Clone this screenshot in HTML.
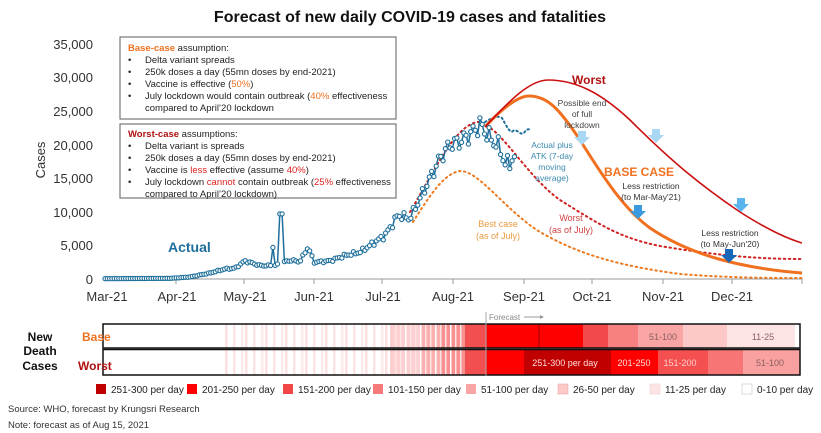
<!DOCTYPE html>
<html><head><meta charset="utf-8"><style>
body{margin:0;background:#fff;}
svg{display:block;font-family:"Liberation Sans",Arial,sans-serif;}
</style></head><body>
<svg id="s" width="821" height="433" viewBox="0 0 821 433" xmlns="http://www.w3.org/2000/svg">
<text x="410" y="22" text-anchor="middle" font-size="16" font-weight="bold" fill="#111">Forecast of new daily COVID-19 cases and fatalities</text>
<g font-size="13" fill="#333" text-anchor="end">
<text x="93" y="49">35,000</text><text x="93" y="82">30,000</text><text x="93" y="116">25,000</text>
<text x="93" y="150">20,000</text><text x="93" y="183">15,000</text><text x="93" y="217">10,000</text>
<text x="93" y="250">5,000</text><text x="93" y="284">0</text>
</g>
<text transform="translate(45,160) rotate(-90)" font-size="13" fill="#333" text-anchor="middle">Cases</text>
<line x1="103" y1="279" x2="802" y2="279" stroke="#999" stroke-width="1"/>
<g stroke="#999"><line x1="176" y1="279" x2="176" y2="284"/><line x1="244" y1="279" x2="244" y2="284"/><line x1="314" y1="279" x2="314" y2="284"/><line x1="382" y1="279" x2="382" y2="284"/><line x1="453" y1="279" x2="453" y2="284"/><line x1="524" y1="279" x2="524" y2="284"/><line x1="592" y1="279" x2="592" y2="284"/><line x1="663" y1="279" x2="663" y2="284"/><line x1="732" y1="279" x2="732" y2="284"/><line x1="802" y1="279" x2="802" y2="284"/></g>
<g font-size="13" fill="#333" text-anchor="middle">
<text x="107" y="301">Mar-21</text><text x="177" y="301">Apr-21</text><text x="245" y="301">May-21</text><text x="314" y="301">Jun-21</text><text x="383" y="301">Jul-21</text><text x="453" y="301">Aug-21</text><text x="524" y="301">Sep-21</text><text x="592" y="301">Oct-21</text><text x="663" y="301">Nov-21</text><text x="732" y="301">Dec-21</text>
</g>
<path d="M413,222 C430,195 445,172 461,171 C480,172 505,210 540,232 C580,255 620,266 680,274 C730,278 770,278 802,278" fill="none" stroke="#ee7a20" stroke-width="2" stroke-dasharray="1.5 3.5" stroke-linecap="round"/>
<path d="M410,212 C435,170 455,125 478,122 C500,125 525,175 560,200 C600,225 620,238 660,246 C720,256 760,259 802,259" fill="none" stroke="#d02020" stroke-width="2" stroke-dasharray="1.5 3.5" stroke-linecap="round"/>
<path d="M485,122 C492,118 497,115 502,118 C506,125 510,134 513,131 C517,128 520,136 524,133 C527,128 528,130 530,129" fill="none" stroke="#1f6f9c" stroke-width="2" stroke-dasharray="1.5 3" stroke-linecap="round"/>
<path d="M485,127 C505,105 520,96 529,96 C548,96 560,110 580,140 C605,180 625,210 650,228 C690,255 740,268 802,273" fill="none" stroke="#f07020" stroke-width="3"/>
<path d="M485,127 C510,100 530,80 548,80 C575,80 600,92 630,120 C670,160 700,185 740,212 C765,228 785,238 802,243" fill="none" stroke="#cc1010" stroke-width="1.6"/>
<g id="act"></g>
<g>
<polygon points="578,131 586,131 586,137 590,137 582,145 574,137 578,137" fill="#a9d8f5"/>
<polygon points="652,129 660,129 660,135 664,135 656,143 648,135 652,135" fill="#a9d8f5"/>
<polygon points="737,198 745,198 745,204 749,204 741,212 733,204 737,204" fill="#5ab4ee"/>
<polygon points="634,205 642,205 642,211 646,211 638,219 630,211 634,211" fill="#3a9ae0"/>
<polygon points="725,249 733,249 733,255 737,255 729,263 721,255 725,255" fill="#1766b8"/>
</g>
<text x="572" y="84" font-size="12" font-weight="bold" fill="#b01010">Worst</text>
<g font-size="8.5" fill="#444" text-anchor="middle"><text x="582" y="106">Possible end</text><text x="582" y="117">of full</text><text x="582" y="128">lockdown</text></g>
<g font-size="8.5" fill="#3a8ab0" text-anchor="middle"><text x="552" y="148">Actual plus</text><text x="552" y="159">ATK (7-day</text><text x="552" y="170">moving</text><text x="552" y="181">average)</text></g>
<text x="604" y="176" font-size="12" font-weight="bold" fill="#f07020">BASE CASE</text>
<g font-size="8.5" fill="#333" text-anchor="middle"><text x="651" y="189">Less restriction</text><text x="651" y="200">(to Mar-May'21)</text><text x="730" y="236">Less restriction</text><text x="730" y="247">(to May-Jun'20)</text></g>
<g font-size="9" fill="#d04040" text-anchor="middle"><text x="571" y="221">Worst</text><text x="571" y="233">(as of July)</text></g>
<g font-size="9" fill="#e89a40" text-anchor="middle"><text x="498" y="227">Best case</text><text x="498" y="239">(as of July)</text></g>
<text x="168" y="252" font-size="14" font-weight="bold" fill="#1f6f9c">Actual</text>
<rect x="120" y="37" width="276" height="82" fill="#fff" stroke="#777" stroke-width="1.2"/>
<rect x="120" y="124" width="276" height="74" fill="#fff" stroke="#777" stroke-width="1.2"/>
<g font-size="9.5" fill="#222">
<text x="128" y="51"><tspan fill="#f07020" font-weight="bold">Base-case</tspan> assumption:</text>
<text x="128" y="63">•</text><text x="145" y="63">Delta variant spreads</text>
<text x="128" y="75">•</text><text x="145" y="75">250k doses a day (55mn doses by end-2021)</text>
<text x="128" y="87">•</text><text x="145" y="87">Vaccine is effective (<tspan fill="#f07020">50%</tspan>)</text>
<text x="128" y="99">•</text><text x="145" y="99">July lockdown would contain outbreak (<tspan fill="#f07020">40%</tspan> effectiveness</text>
<text x="145" y="111">compared to April’20 lockdown</text>
<text x="128" y="137"><tspan fill="#b01010" font-weight="bold">Worst-case</tspan> assumptions:</text>
<text x="128" y="149">•</text><text x="145" y="149">Delta variant is spreads</text>
<text x="128" y="161">•</text><text x="145" y="161">250k doses a day (55mn doses by end-2021)</text>
<text x="128" y="173">•</text><text x="145" y="173">Vaccine is <tspan fill="#e02020">less</tspan> effective (assume <tspan fill="#e02020">40%</tspan>)</text>
<text x="128" y="185">•</text><text x="145" y="185">July lockdown <tspan fill="#e02020">cannot</tspan> contain outbreak (<tspan fill="#e02020">25%</tspan> effectiveness</text>
<text x="145" y="197">compared to April’20 lockdown)</text>
</g>
<g id="bars"></g>
<g font-size="12" font-weight="bold" fill="#111" text-anchor="middle"><text x="40" y="341">New</text><text x="40" y="355">Death</text><text x="40" y="370">Cases</text></g>
<text x="82" y="341" font-size="12" font-weight="bold" fill="#f07020">Base</text>
<text x="78" y="370" font-size="12" font-weight="bold" fill="#b01010">Worst</text>
<line x1="486" y1="312" x2="486" y2="376" stroke="#aaa" stroke-width="1"/>
<text x="489" y="320" font-size="8" fill="#888">Forecast</text>
<line x1="524" y1="317" x2="540" y2="317" stroke="#999"/><polygon points="540,315 544,317 540,319" fill="#999"/>
<g font-size="10" fill="#222">
<rect x="96" y="384" width="10" height="10" fill="#c00000"/><text x="111" y="393">251-300 per day</text>
<rect x="187" y="384" width="10" height="10" fill="#ff0000"/><text x="202" y="393">201-250 per day</text>
<rect x="283" y="384" width="10" height="10" fill="#f24545"/><text x="298" y="393">151-200 per day</text>
<rect x="373" y="384" width="10" height="10" fill="#f77a7a"/><text x="388" y="393">101-150 per day</text>
<rect x="466" y="384" width="10" height="10" fill="#f9a5a5"/><text x="481" y="393">51-100 per day</text>
<rect x="558" y="384" width="10" height="10" fill="#fcc8c8" stroke="#e8a0a0" stroke-width="0.5"/><text x="573" y="393">26-50 per day</text>
<rect x="650" y="384" width="10" height="10" fill="#fde4e4" stroke="#eecccc" stroke-width="0.5"/><text x="665" y="393">11-25 per day</text>
<rect x="742" y="384" width="10" height="10" fill="#fff" stroke="#ccc" stroke-width="0.7"/><text x="757" y="393">0-10 per day</text>
</g>
<text x="8" y="412" font-size="9.5" fill="#333">Source: WHO, forecast by Krungsri Research</text>
<text x="8" y="428" font-size="9.5" fill="#333">Note: forecast as of Aug 15, 2021</text>
</svg>
<script>
var NS="http://www.w3.org/2000/svg";
function el(t,a,p){var e=document.createElementNS(NS,t);for(var k in a)e.setAttribute(k,a[k]);p.appendChild(e);return e;}
var bars=document.getElementById('bars');
function row(y,h,segs){segs.forEach(function(s){el('rect',{x:s[0],y:y,width:s[1]-s[0],height:h,fill:s[2]},bars);});}
var stripes=[];
var pal=['#fdeaea','#fde0e0','#fff','#fde4e4','#fff'];
for(var x=225;x<390;x+=4){stripes.push([x,x+2.5,pal[Math.floor(x/4)%5]]);}
var common=[[390,420,'#fcd0d0'],[420,440,'#fbb0b0'],[440,465,'#f89090'],[465,486,'#f25050']];
for(var x=395;x<465;x+=5){common.push([x,x+1.5,(x%3?'#fde4e4':'#fff')]);}
row(324,24,stripes.concat(common).concat([[486,538,'#ff0000'],[538,540,'#d00000'],[540,583,'#ff0000'],[583,608,'#f24a4a'],[608,638,'#f78080'],[638,683,'#f9a5a5'],[683,727,'#fcc8c8'],[727,795,'#fde4e4']]));
row(350,25,stripes.concat(common).concat([[486,524,'#ff0000'],[524,611,'#c00000'],[611,658,'#ff0000'],[658,708,'#f55050'],[708,743,'#f77575'],[743,800,'#f9a0a0']]));
el('rect',{x:103,y:324,width:697,height:24,fill:'none',stroke:'#111','stroke-width':1.5},bars);
el('rect',{x:103,y:349.5,width:697,height:25.5,fill:'none',stroke:'#111','stroke-width':1.5},bars);
[[663,340,'51-100','#8a6060'],[763,340,'11-25','#8a6060'],[565,366,'251-300 per day','#fdd'],[634,366,'201-250','#fdd'],[680,366,'151-200','#fcc'],[770,366,'51-100','#8a6060']].forEach(function(t){var e=el('text',{x:t[0],y:t[1],'font-size':9,fill:t[3],'text-anchor':'middle'},bars);e.textContent=t[2];});
var kf=[[105,50],[170,100],[190,300],[210,900],[225,1500],[235,1600],[245,2700],[260,2000],[275,2000],[290,2800],[300,2600],[308,4800],[314,2500],[330,2700],[345,3500],[360,4000],[375,5500],[385,6500],[398,9500],[410,9000],[420,12000],[430,15000],[440,18000],[450,20000],[460,20500],[470,21500],[480,23000],[490,21000],[500,19500],[505,17000],[515,18000]];
function val(x){for(var i=1;i<kf.length;i++){if(x<=kf[i][0]){var a=kf[i-1],b=kf[i],t=(x-a[0])/(b[0]-a[0]);return a[1]+(b[1]-a[1])*t;}}return 18000;}
var pts=[];var i=0;
for(var x=105;x<=515;x+=2.3,i++){var v=val(x);v*=1+0.05*Math.sin(i*1.7)+0.03*Math.sin(i*3.1);
 if(Math.abs(x-272)<1.2)v=4700; if(Math.abs(x-281)<1.2)v=9700;
 pts.push([x,279-v*235/35000]);}
var g=document.getElementById('act');
el('polyline',{points:pts.map(function(p){return p[0].toFixed(1)+','+p[1].toFixed(1);}).join(' '),fill:'none',stroke:'#1f6f9c','stroke-width':1.5},g);
pts.forEach(function(p){el('circle',{cx:p[0],cy:p[1],r:2.1,fill:'#fff',stroke:'#1f6f9c','stroke-width':1.1},g);});
</script>
</body></html>
